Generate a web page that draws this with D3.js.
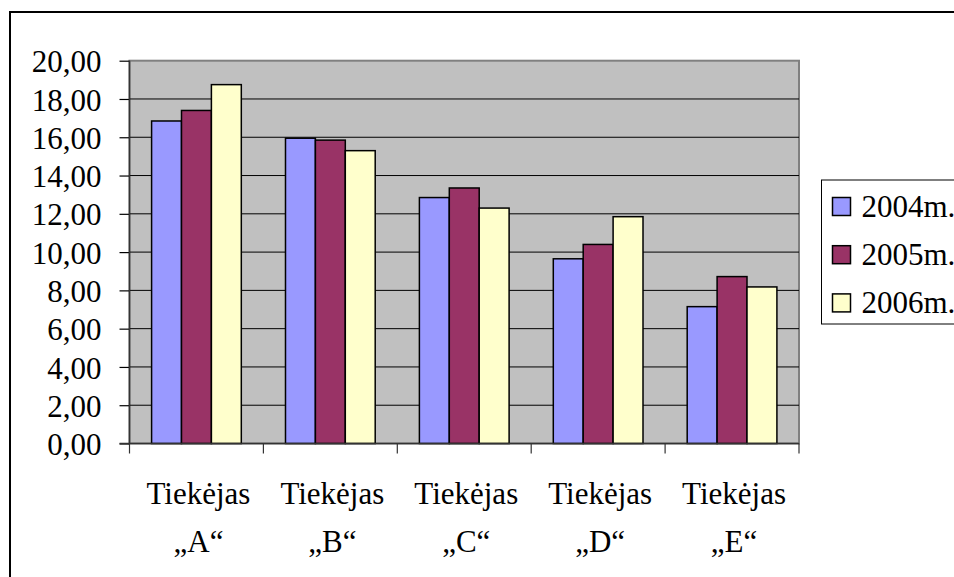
<!DOCTYPE html>
<html>
<head>
<meta charset="utf-8">
<script src="https://cdn.jsdelivr.net/npm/d3@7"></script>
<style>
  body { margin: 0; background: #fff; }
  svg text { font-family: "Liberation Serif", "DejaVu Serif", serif; }
</style>
</head>
<body>
<div class="canvas"></div>
<script>
// data
const categories = ['Tiekėjas „A“', 'Tiekėjas „B“', 'Tiekėjas „C“', 'Tiekėjas „D“', 'Tiekėjas „E“']
const seriesNames = ['2004m.', '2005m.', '2006m.']
const v2004 = [16.85, 15.95, 12.85, 9.65, 7.15]
const v2005 = [17.40, 15.85, 13.35, 10.40, 8.72]
const v2006 = [18.75, 15.30, 12.30, 11.85, 8.18]
const yTicks = [0, 2, 4, 6, 8, 10, 12, 14, 16, 18, 20]
const colors = ['#9999FF', '#993366', '#FFFFCC']

const values = [v2004, v2005, v2006]

const svgWidth = 954
const svgHeight = 577
const serif = '"Liberation Serif", "DejaVu Serif", serif'
const fontSize = '31px'

// plot area box
const plot = {left: 129.5, right: 799, top: 60.7, bottom: 443.5}

const svg = d3.select('.canvas')
    .append('svg')
    .attr('width', svgWidth)
    .attr('height', svgHeight)

// outer chart frame (runs off the right/bottom edge)
svg.append('rect')
    .attr('x', 10).attr('y', 12)
    .attr('width', 1000).attr('height', 700)
    .attr('fill', 'none')
    .attr('stroke', '#000')
    .attr('stroke-width', 2)

// scales
const x0 = d3.scaleBand()
    .domain(categories)
    .range([plot.left, plot.right])
    .paddingInner(0.33)
    .paddingOuter(0.165)

const x1 = d3.scaleBand()
    .domain(seriesNames)
    .range([0, x0.bandwidth()])

const y = d3.scaleLinear()
    .domain([0, 20])
    .range([plot.bottom, plot.top])

// plot background
svg.append('rect')
    .attr('x', plot.left).attr('y', plot.top)
    .attr('width', plot.right - plot.left)
    .attr('height', plot.bottom - plot.top)
    .attr('fill', '#C0C0C0')
    .attr('stroke', '#808080')
    .attr('stroke-width', 2)

// gridlines
svg.append('g')
    .selectAll('line')
    .data(yTicks.filter(t => t > 0 && t < 20))
    .enter().append('line')
    .attr('x1', plot.left).attr('x2', plot.right)
    .attr('y1', d => y(d)).attr('y2', d => y(d))
    .attr('stroke', '#000')
    .attr('stroke-width', 1)

// bars
const groups = svg.append('g')
    .selectAll('g')
    .data(categories)
    .enter().append('g')
    .attr('transform', d => `translate(${x0(d)},0)`)

groups.selectAll('rect')
    .data((d, i) => seriesNames.map((s, j) => ({s: s, v: values[j][i], c: colors[j]})))
    .enter().append('rect')
    .attr('x', d => x1(d.s))
    .attr('y', d => y(d.v))
    .attr('width', x1.bandwidth())
    .attr('height', d => y(0) - y(d.v))
    .attr('fill', d => d.c)
    .attr('stroke', '#000')
    .attr('stroke-width', 1.5)

// y axis
const yAxis = d3.axisLeft(y)
    .tickValues(yTicks)
    .tickSize(10)
    .tickPadding(18)
    .tickFormat(d => d.toFixed(2).replace('.', ','))

const yAxisGroup = svg.append('g')
    .attr('transform', `translate(${plot.left},0)`)
    .call(yAxis)
    .attr('font-family', serif)
    .attr('font-size', fontSize)

yAxisGroup.select('.domain').remove()
yAxisGroup.selectAll('line').attr('stroke', '#000').attr('stroke-width', 1.2)
yAxisGroup.selectAll('text')
    .attr('fill', '#000')
    .attr('dy', '0.36em')

// axis lines
svg.append('line')
    .attr('x1', plot.left).attr('x2', plot.left)
    .attr('y1', plot.top).attr('y2', plot.bottom)
    .attr('stroke', '#333').attr('stroke-width', 1.5)

svg.append('line')
    .attr('x1', plot.left - 10).attr('x2', plot.right)
    .attr('y1', plot.bottom).attr('y2', plot.bottom)
    .attr('stroke', '#333').attr('stroke-width', 1.5)

// category boundary ticks
const step = x0.step()
const bounds = d3.range(categories.length + 1).map(i => x0.range()[0] + i * step)
svg.append('g')
    .selectAll('line')
    .data(bounds)
    .enter().append('line')
    .attr('x1', d => d).attr('x2', d => d)
    .attr('y1', plot.bottom).attr('y2', plot.bottom + 10)
    .attr('stroke', '#333').attr('stroke-width', 1.2)

// category labels (two lines)
const catLabels = svg.append('g')
    .selectAll('text')
    .data(categories)
    .enter().append('text')
    .attr('text-anchor', 'middle')
    .attr('font-family', serif)
    .attr('font-size', fontSize)
    .attr('fill', '#000')

catLabels.append('tspan')
    .attr('x', d => x0(d) + x0.bandwidth() / 2 + 2)
    .attr('y', 504)
    .text(d => d.split(' ')[0])

catLabels.append('tspan')
    .attr('x', d => x0(d) + x0.bandwidth() / 2 + 2)
    .attr('y', 552)
    .text(d => d.split(' ')[1])

// legend
const legend = svg.append('g')
    .attr('transform', 'translate(821.5,180)')

legend.append('rect')
    .attr('width', 200).attr('height', 144)
    .attr('fill', '#fff')
    .attr('stroke', '#000')
    .attr('stroke-width', 1)

const items = legend.selectAll('g.item')
    .data(seriesNames)
    .enter().append('g')
    .attr('class', 'item')
    .attr('transform', (d, i) => `translate(0, ${i * 48.2})`)

items.append('rect')
    .attr('x', 11).attr('y', 17.5)
    .attr('width', 18).attr('height', 18)
    .attr('fill', (d, i) => colors[i])
    .attr('stroke', '#000')
    .attr('stroke-width', 1.5)

items.append('text')
    .attr('x', 40).attr('y', 36.5)
    .attr('font-family', serif)
    .attr('font-size', fontSize)
    .attr('fill', '#000')
    .text(d => d)
</script>
</body>
</html>
